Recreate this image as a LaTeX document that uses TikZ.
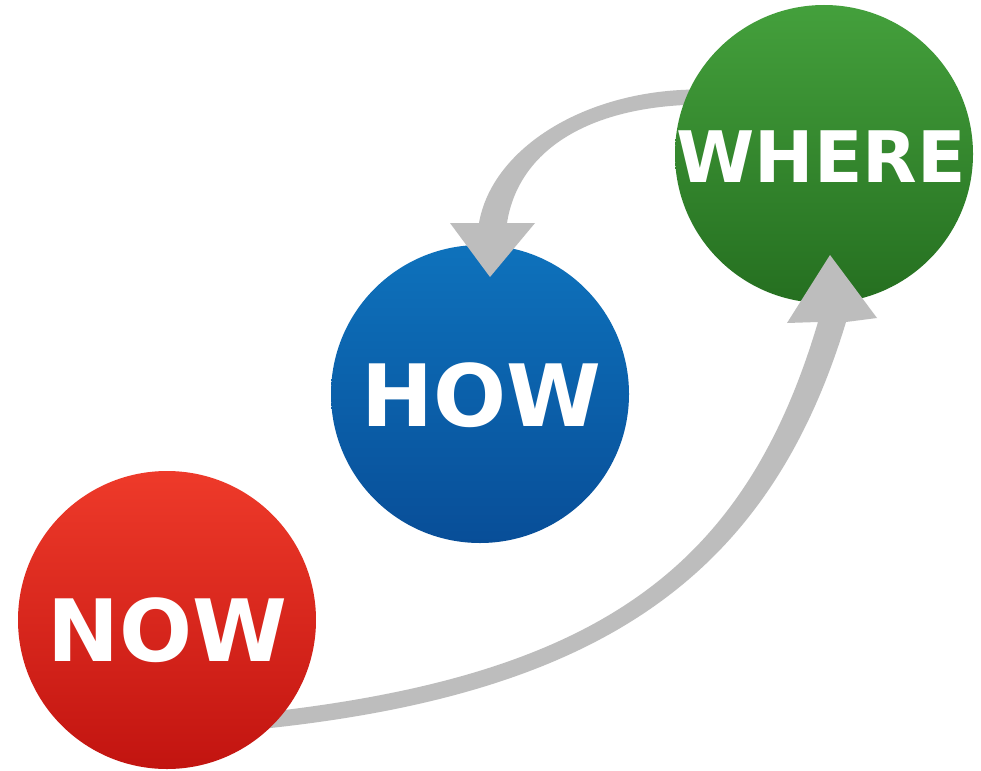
\documentclass[tikz,border=0pt]{standalone}
\usepackage{fontspec}
\newfontfamily\lblfont{DejaVu Sans}
\usetikzlibrary{calc}
\definecolor{redtop}{HTML}{EE3A2A}
\definecolor{redbot}{HTML}{C21410}
\definecolor{bluetop}{HTML}{0E72BC}
\definecolor{bluebot}{HTML}{084E98}
\definecolor{greentop}{HTML}{44A03C}
\definecolor{greenbot}{HTML}{256F20}
\definecolor{arrowgray}{HTML}{BDBDBD}
\tikzset{
  ball/.style={circle, minimum size=298pt, inner sep=0pt, draw=none, shading angle=-25},
  redball/.style={ball, top color=redtop, bottom color=redbot},
  blueball/.style={ball, top color=bluetop, bottom color=bluebot},
  greenball/.style={ball, top color=greentop, bottom color=greenbot},
  lbl/.style={text=white, inner sep=0pt, font=\lblfont\bfseries\fontsize{#1}{#1}\selectfont},
  arrowfill/.style={fill=arrowgray, draw=none}
}
\begin{document}
\begin{tikzpicture}[x=1pt, y=-1pt]
\useasboundingbox (0,0) rectangle (981,770);
\fill[white] (0,0) rectangle (981,770);
% HOW circle
\node[blueball] (how) at (480,394) {};
\node[lbl=86] (howt) at ($(how)+(1,1)$) {HOW};
% upper arrow: WHERE -> HOW
\coordinate (ua0o) at (700,89.5);
\coordinate (ua1o) at (586,89);
\coordinate (ua2o) at (492,148);
\coordinate (ua3o) at (479,223);
\coordinate (uhl) at (450,223);
\coordinate (uht) at (490,277);
\coordinate (uhr) at (535,223);
\coordinate (ua3i) at (507,223);
\coordinate (ua2i) at (518,152);
\coordinate (ua1i) at (586,106);
\coordinate (ua0i) at (700,104.5);
\fill[arrowfill] (ua0o) .. controls (ua1o) and (ua2o) .. (ua3o) -- (uhl) -- (uht) -- (uhr) -- (ua3i) .. controls (ua2i) and (ua1i) .. (ua0i) -- cycle;
% WHERE circle
\node[greenball] (where) at (824,154) {};
\node[lbl=71] (wheret) at ($(where)+(-3,3)$) {WHERE};
% lower arrow: NOW -> WHERE
\coordinate (la0i) at (249,714);
\coordinate (la1i) at (599,678);
\coordinate (la2i) at (745,568);
\coordinate (la3i) at (818,322);
\coordinate (lhl) at (787,323);
\coordinate (lht) at (830,255);
\coordinate (lhr) at (877,318);
\coordinate (la3o) at (846,322);
\coordinate (la2o) at (769,576);
\coordinate (la1o) at (601,696);
\coordinate (la0o) at (251,730);
\fill[arrowfill] (la0i) .. controls (la1i) and (la2i) .. (la3i) -- (lhl) -- (lht) -- (lhr) -- (la3o) .. controls (la2o) and (la1o) .. (la0o) -- cycle;
% NOW circle
\node[redball] (now) at (167,620) {};
\node[lbl=86] (nowt) at ($(now)+(0,10)$) {NOW};
\end{tikzpicture}
\end{document}
